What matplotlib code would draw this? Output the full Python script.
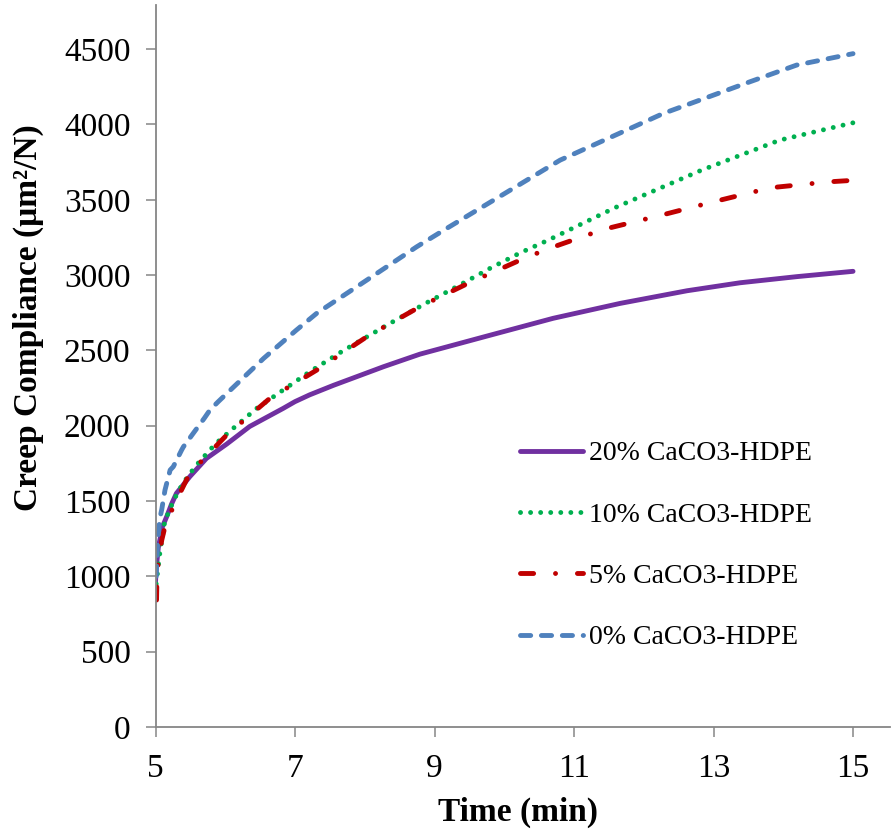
import matplotlib
matplotlib.use("Agg")
import matplotlib.pyplot as plt

# ---- data ----
time_20 = [5.0, 5.01, 5.04, 5.10, 5.16, 5.23, 5.30, 5.49, 5.73, 6.02, 6.35, 6.55, 6.83,
           7.0, 7.21, 7.55, 8.27, 8.79, 9.75, 10.70, 11.66, 12.62, 13.38, 14.2, 15.0]
comp_20 = [960, 1050, 1190, 1330, 1396, 1480, 1551, 1661, 1783, 1878, 1995, 2045, 2115,
           2160, 2205, 2268, 2392, 2475, 2595, 2713, 2812, 2896, 2949, 2990, 3025]

time_10 = [5.01, 5.065, 5.136, 5.2, 5.255, 5.33, 5.40, 5.49, 5.58, 5.78, 5.877, 6.115,
           6.45, 6.83, 7.21, 7.69, 8.36, 8.89, 9.29, 9.82, 10.23, 10.63, 11.59, 12.83,
           13.95, 15.0]
comp_10 = [950, 1164, 1374, 1436, 1500, 1566, 1622, 1679, 1735, 1839, 1887, 1983,
           2115, 2237, 2358, 2498, 2679, 2817, 2916, 3051, 3148, 3232, 3448, 3697,
           3896, 4011]

time_5 = [5.015, 5.02, 5.04, 5.09, 5.136, 5.255, 5.49, 6.02, 6.64, 7.31, 8.03, 8.79,
          9.48, 10.25, 10.63, 11.42, 12.22, 13.02, 13.82, 14.65, 15.0]
comp_5 = [843, 964, 1097, 1241, 1330, 1462, 1684, 1938, 2182, 2369, 2591, 2790,
          2945, 3104, 3175, 3303, 3394, 3489, 3580, 3619, 3629]

time_0 = [5.01, 5.03, 5.06, 5.09, 5.136, 5.21, 5.255, 5.375, 5.40, 5.54, 5.70, 5.78,
          5.9, 6.115, 6.55, 7.02, 7.31, 8.03, 8.745, 9.175, 10.80, 12.28, 13.52, 14.19,
          15.0]
comp_0 = [1000, 1219, 1380, 1445, 1573, 1706, 1728, 1839, 1860, 1949, 2050, 2104,
          2160, 2255, 2447, 2635, 2746, 2967, 3188, 3310, 3763, 4073, 4283, 4394,
          4470]

labels = ["20% CaCO3-HDPE", "10% CaCO3-HDPE", "5% CaCO3-HDPE", "0% CaCO3-HDPE"]
x_ticks = [5, 7, 9, 11, 13, 15]
y_ticks = [0, 500, 1000, 1500, 2000, 2500, 3000, 3500, 4000, 4500]

plt.rcParams['font.family'] = ['Liberation Serif', 'DejaVu Serif']

W, H = 892, 836
fig = plt.figure(figsize=(W / 100, H / 100), dpi=100)
left, right, bottom, top = 155.5, 890, 727, 5
ax = fig.add_axes([left / W, (H - bottom) / H, (right - left) / W, (bottom - top) / H])

lw = 3.5
ax.plot(time_20, comp_20, color='#7030A0', lw=lw, solid_capstyle='round',
        solid_joinstyle='round', label=labels[0])
ax.plot(time_10, comp_10, color='#00B050', lw=lw, linestyle=(0, (0.01, 2.06)),
        dash_capstyle='round', label=labels[1])
ax.plot(time_5, comp_5, color='#C00000', lw=lw, linestyle=(0, (2.7, 4.5, 0.01, 4.5)),
        dash_capstyle='round', label=labels[2])
ax.plot(time_0, comp_0, color='#4F81BD', lw=lw, linestyle=(0, (2.1, 2.2)),
        dash_capstyle='round', label=labels[3])

ax.set_xlim(5, 15.53)
ax.set_ylim(0, 4793)
ax.set_xticks(x_ticks)
ax.set_yticks(y_ticks)

for s in ['top', 'right']:
    ax.spines[s].set_visible(False)
for s in ['left', 'bottom']:
    ax.spines[s].set_color('#868686')
    ax.spines[s].set_linewidth(1.3)

ax.tick_params(axis='both', direction='out', length=7, width=1.1, color='#868686',
               labelsize=24, labelcolor='black')
ax.tick_params(axis='y', pad=11)
ax.tick_params(axis='x', pad=12)

ax.set_xlabel('Time (min)', fontsize=24, fontweight='bold')
ax.set_ylabel('Creep Compliance (μm²/N)', fontsize=24, fontweight='bold')
ax.xaxis.set_label_coords((518 - left) / (right - left), (bottom - 812) / (bottom - top))
ax.yaxis.set_label_coords((28 - left) / (right - left), (bottom - 318) / (bottom - top))
ax.xaxis.label.set_va('center')
ax.yaxis.label.set_va('center')

leg = ax.legend(loc='upper left', frameon=False, fontsize=20,
                bbox_to_anchor=((520 - left) / (right - left), (bottom - 441) / (bottom - top)),
                borderpad=0, borderaxespad=0, handlelength=2.27, handletextpad=0.2,
                labelspacing=1.29)

fig.savefig('out.png', dpi=100)
